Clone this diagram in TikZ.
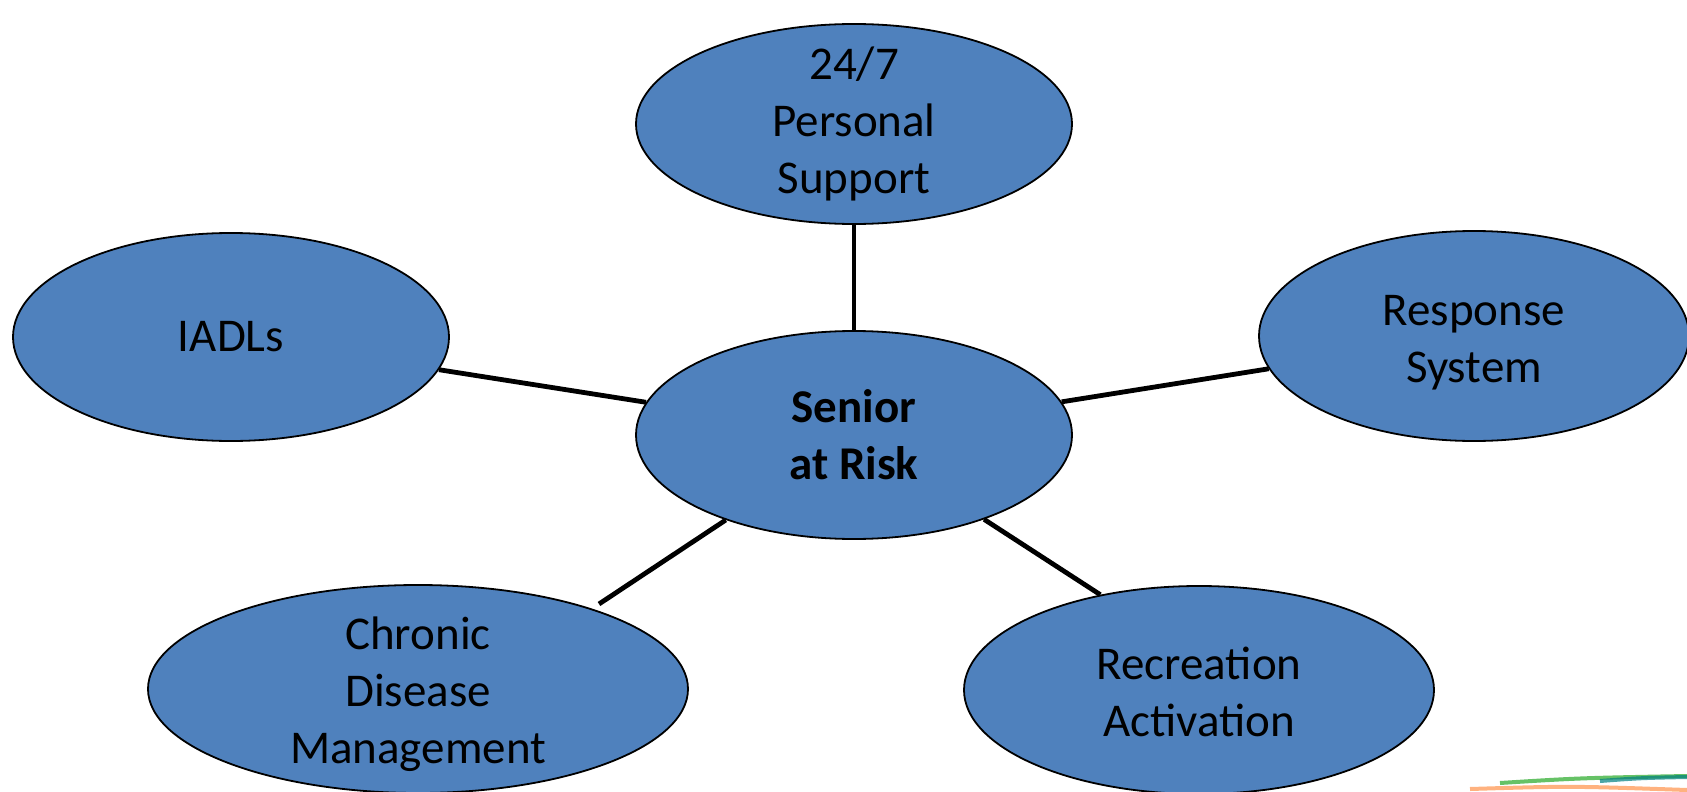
\documentclass[tikz,border=0pt]{standalone}
\usepackage{fontspec}
\setmainfont{Carlito}
\usetikzlibrary{shapes.geometric}

\definecolor{bubblefill}{HTML}{4F81BD}
\tikzset{
  bubble/.style={ellipse, draw=black, line width=0.9pt, fill=bubblefill, inner sep=0pt},
  bubbletext/.style={align=center, font=\fontsize{23.5}{28.5}\selectfont},
  link/.style={line width=2.4pt, black}
}

\begin{document}
\begin{tikzpicture}[x=0.5pt, y=-0.5pt]

\useasboundingbox (0, 0) rectangle (1687, 792);
\clip (0, 0) rectangle (1687, 792);

% the hub and the five needs round it
\node[bubble, minimum width=218pt, minimum height=104pt,
  label={[bubbletext, font=\fontsize{23.5}{28.5}\selectfont\bfseries]center:Senior\\at Risk}] (hub) at (854, 435) {};
\node[bubble, minimum width=218pt, minimum height=100pt,
  label={[bubbletext]center:24/7\\Personal\\Support}] (support) at (854, 124) {};
\node[bubble, minimum width=218pt, minimum height=104pt,
  label={[bubbletext]center:IADLs}] (iadls) at (231, 337) {};
\node[bubble, minimum width=215pt, minimum height=105pt,
  label={[bubbletext, yshift=-3.5pt]center:Response\\System}] (response) at (1474, 336) {};
\node[bubble, minimum width=270pt, minimum height=104pt,
  label={[bubbletext, yshift=-2.5pt]center:Chronic\\Disease\\Management}] (chronic) at (418, 689) {};
\node[bubble, minimum width=235pt, minimum height=104pt,
  label={[bubbletext, yshift=-1pt]center:Recreation\\Activation}] (recreation) at (1199, 690) {};

\coordinate (chronicend) at (599, 604);

% spokes
\draw[link] (hub) -- (support);
\draw[link] (hub) -- (iadls);
\draw[link] (hub) -- (response);
\draw[link] (hub) -- (chronicend);
\draw[link] (hub) -- (recreation.136);

% corner swoosh
\draw[green!60!black, opacity=0.6, line width=2pt] (1500, 783) .. controls (1580, 778) .. (1687, 776);
\draw[teal, opacity=0.7, line width=2pt] (1600, 781) .. controls (1640, 778) .. (1687, 777);
\draw[orange!80!red, opacity=0.5, line width=2pt] (1470, 789) .. controls (1570, 786) .. (1687, 790);

\end{tikzpicture}
\end{document}
